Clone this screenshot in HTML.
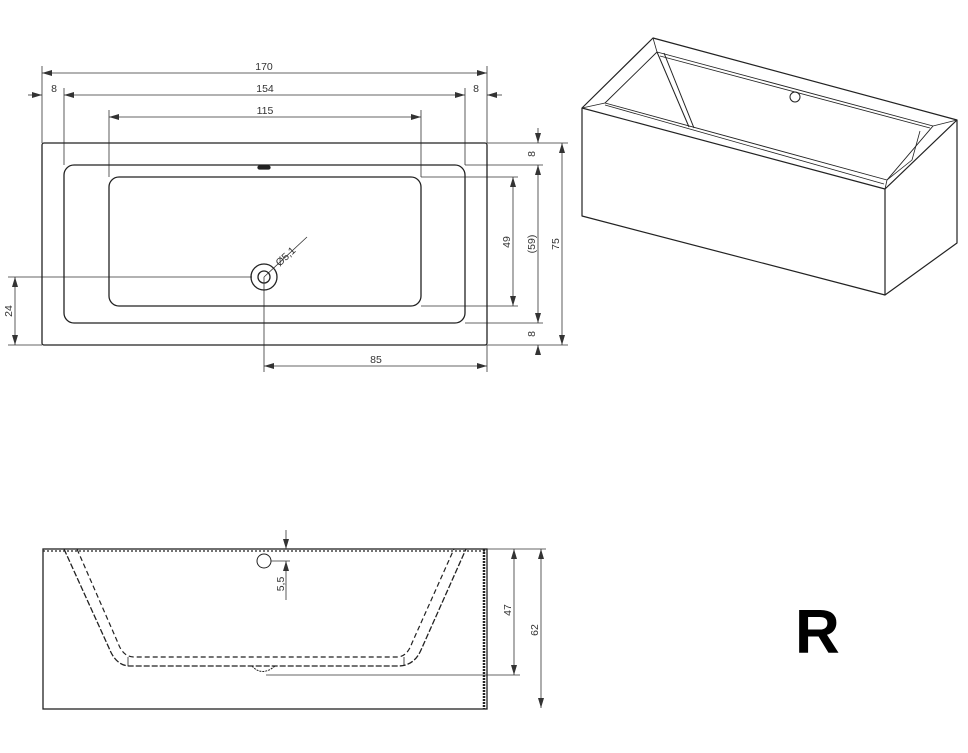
<!DOCTYPE html>
<html><head><meta charset="utf-8"><style>
html,body{margin:0;padding:0;background:#fff;width:968px;height:753px;overflow:hidden}
svg{display:block}
text{font-family:"Liberation Sans",sans-serif;font-size:10.5px;fill:#333}
</style></head><body>
<svg width="968" height="753" viewBox="0 0 968 753" xmlns="http://www.w3.org/2000/svg">
<defs>
<marker id="a" viewBox="0 0 10 6" refX="10" refY="3" markerWidth="10" markerHeight="6" orient="auto-start-reverse" markerUnits="userSpaceOnUse"><path d="M0,0 L10,3 L0,6 z" fill="#333"/></marker>
</defs>
<g stroke="#333" stroke-width="0.8" fill="none">
<line x1="42" y1="66" x2="42" y2="143"/><line x1="487" y1="66" x2="487" y2="143"/>
<line x1="64" y1="88" x2="64" y2="165"/><line x1="465" y1="88" x2="465" y2="165"/>
<line x1="109" y1="110" x2="109" y2="177"/><line x1="421" y1="110" x2="421" y2="177"/>
<line x1="42" y1="73" x2="487" y2="73" marker-start="url(#a)" marker-end="url(#a)"/>
<line x1="64" y1="95" x2="465" y2="95" marker-start="url(#a)" marker-end="url(#a)"/>
<line x1="28" y1="95" x2="42" y2="95" marker-end="url(#a)"/>
<line x1="502" y1="95" x2="487" y2="95" marker-end="url(#a)"/>
<line x1="109" y1="117" x2="421" y2="117" marker-start="url(#a)" marker-end="url(#a)"/>
<line x1="487" y1="143" x2="568" y2="143"/>
<line x1="465" y1="165" x2="543" y2="165"/>
<line x1="421" y1="177" x2="518" y2="177"/>
<line x1="421" y1="306" x2="518" y2="306"/>
<line x1="465" y1="323" x2="543" y2="323"/>
<line x1="487" y1="345" x2="568" y2="345"/>
<line x1="513" y1="177" x2="513" y2="306" marker-start="url(#a)" marker-end="url(#a)"/>
<line x1="538" y1="165" x2="538" y2="323" marker-start="url(#a)" marker-end="url(#a)"/>
<line x1="538" y1="128" x2="538" y2="143" marker-end="url(#a)"/>
<line x1="538" y1="355" x2="538" y2="345" marker-end="url(#a)"/>
<line x1="562" y1="143" x2="562" y2="345" marker-start="url(#a)" marker-end="url(#a)"/>
<line x1="8" y1="277" x2="252" y2="277"/>
<line x1="8" y1="345" x2="42" y2="345"/>
<line x1="15" y1="277" x2="15" y2="345" marker-start="url(#a)" marker-end="url(#a)"/>
<line x1="264" y1="277" x2="264" y2="372"/>
<line x1="487" y1="345" x2="487" y2="372"/>
<line x1="264" y1="366" x2="487" y2="366" marker-start="url(#a)" marker-end="url(#a)"/>
<line x1="264" y1="277" x2="307" y2="237"/>
</g>
<g stroke="#222" stroke-width="1.3" fill="none">
<rect x="42" y="143" width="445" height="202" rx="2"/>
<rect x="64" y="165" width="401" height="158" rx="10"/>
<rect x="109" y="177" width="312" height="129" rx="10"/>
<circle cx="264" cy="277" r="13"/><circle cx="264" cy="277" r="6"/>
<rect x="258" y="166" width="12" height="3" rx="1.5" fill="#222"/>
</g>
<g>
<text x="264" y="70" text-anchor="middle">170</text>
<text x="54" y="92" text-anchor="middle">8</text>
<text x="265" y="92" text-anchor="middle">154</text>
<text x="476" y="92" text-anchor="middle">8</text>
<text x="265" y="114" text-anchor="middle">115</text>
<text x="376" y="363" text-anchor="middle">85</text>
<text transform="translate(12,311) rotate(-90)" text-anchor="middle">24</text>
<text transform="translate(510,242) rotate(-90)" text-anchor="middle">49</text>
<text transform="translate(535,244) rotate(-90)" text-anchor="middle">(59)</text>
<text transform="translate(559,244) rotate(-90)" text-anchor="middle">75</text>
<text transform="translate(535,154) rotate(-90)" text-anchor="middle">8</text>
<text transform="translate(535,334) rotate(-90)" text-anchor="middle">8</text>
<text transform="translate(288,259) rotate(-43)" text-anchor="middle">Ø5,1</text>
</g>
<!-- side view -->
<g stroke="#222" fill="none">
<rect x="43" y="549" width="444" height="160" stroke-width="1.3"/>
<line x1="43" y1="551" x2="485" y2="551" stroke-width="1.2" stroke-dasharray="2,2"/>
<line x1="484" y1="549" x2="484" y2="709" stroke-width="2.5" stroke-dasharray="2,1"/>
<path d="M64,549 L109,648 Q116,666 130,666 L398,666 Q414,666 421,650 L466,549" stroke-width="1.3" stroke-dasharray="6,2"/>
<path d="M77,549 L118,643 Q123,657 134,657 L397,657 Q407,657 412,643 L454,549" stroke-width="1.2" stroke-dasharray="5,3"/>
<line x1="128" y1="657" x2="128" y2="666" stroke-width="0.8"/>
<line x1="404" y1="657" x2="404" y2="666" stroke-width="0.8"/>
<path d="M252,666 Q262,677 275,666" stroke-width="1" stroke-dasharray="2,1"/>
<circle cx="264" cy="561" r="7" stroke-width="1"/>
</g>
<g stroke="#333" stroke-width="0.8" fill="none">
<line x1="286" y1="530" x2="286" y2="549" marker-end="url(#a)"/>
<line x1="286" y1="600" x2="286" y2="561" marker-end="url(#a)"/>
<line x1="271" y1="561" x2="290" y2="561"/>
<line x1="487" y1="549" x2="546" y2="549"/>
<line x1="266" y1="675" x2="520" y2="675"/>
<line x1="514" y1="549" x2="514" y2="675" marker-start="url(#a)" marker-end="url(#a)"/>
<line x1="541" y1="549" x2="541" y2="708" marker-start="url(#a)" marker-end="url(#a)"/>
</g>
<text transform="translate(284,584) rotate(-90)" text-anchor="middle">5,5</text>
<text transform="translate(511,610) rotate(-90)" text-anchor="middle">47</text>
<text transform="translate(538,630) rotate(-90)" text-anchor="middle">62</text>
<!-- iso view -->
<g stroke="#222" stroke-width="1.2" fill="none" stroke-linejoin="round">
<path d="M582,108 L653,38 L957,120 L885,189 Z"/>
<path d="M582,108 L582,216 L885,295 L957,243 L957,120"/>
<line x1="885" y1="189" x2="885" y2="295"/>
<path d="M605,103 L657,52 L933,126 L887,180 Z" stroke-width="0.9"/>
<line x1="582" y1="108" x2="605" y2="103" stroke-width="0.8"/>
<line x1="653" y1="38" x2="657" y2="52" stroke-width="0.8"/>
<line x1="957" y1="120" x2="933" y2="126" stroke-width="0.8"/>
<line x1="885" y1="189" x2="887" y2="180" stroke-width="0.8"/>
<line x1="605" y1="105" x2="884" y2="184" stroke-width="0.8"/>
<line x1="657" y1="52" x2="689" y2="127" stroke-width="1"/>
<line x1="664" y1="53" x2="694" y2="128" stroke-width="1"/>
<line x1="660" y1="56" x2="930" y2="128" stroke-width="0.8"/>
<path d="M920,131 L912,160 L887,180" stroke-width="0.8"/>
<circle cx="795" cy="97" r="5" stroke-width="1"/>
</g>
<text x="795" y="653" style="font-size:62px;font-weight:bold;fill:#000">R</text>
</svg>
</body></html>
